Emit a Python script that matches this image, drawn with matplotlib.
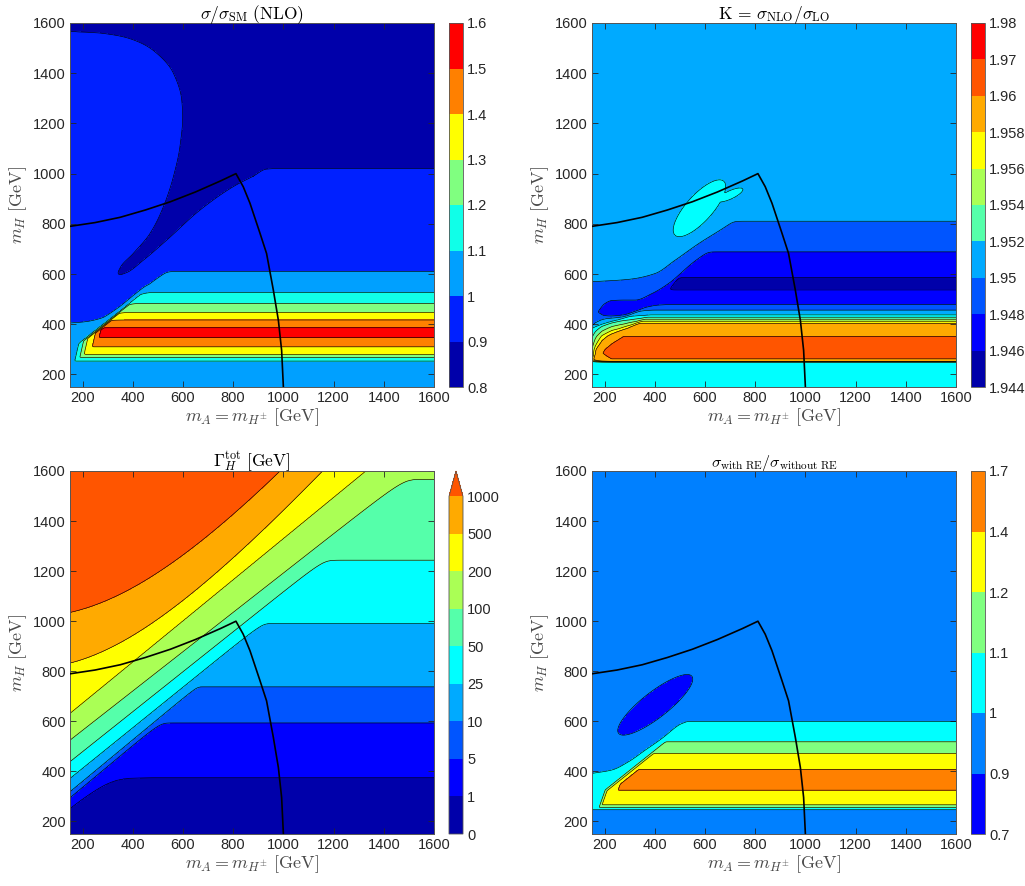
import numpy as np
import matplotlib
matplotlib.use("Agg")
import matplotlib.pyplot as plt
from matplotlib.colors import ListedColormap, BoundaryNorm
from matplotlib.cm import ScalarMappable

plt.rcParams["mathtext.fontset"] = "cm"
plt.rcParams["font.family"] = ["Liberation Sans", "DejaVu Sans"]

# ------------------------------------------------------------------ scan grid (GeV)
m_A = np.linspace(150, 1600, 581)
m_H = np.linspace(150, 1600, 581)
MA, MH = np.meshgrid(m_A, m_H)

# ------------------------------------------------------------------ constraint boundary
bound_mA = [150, 250, 350, 450, 550, 650, 750, 811, 840, 867, 907, 933, 960, 980, 993, 1000]
bound_mH = [790, 805, 826, 855, 888, 927, 971, 1000, 948, 882, 762, 682, 536, 416, 296, 150]

# ------------------------------------------------------------------ sigma/sigma_SM (NLO)
sig_levels = [0.8, 0.9, 1.0, 1.1, 1.2, 1.3, 1.4, 1.5, 1.6]
sig_rise_mH = [150, 248, 253, 268, 280, 310, 348, 367, 450]
sig_rise_val = [1.05, 1.05, 1.1, 1.2, 1.3, 1.4, 1.5, 1.57, 2.05]
sig_fall_mH = [150, 340, 367, 386, 417, 447, 483, 527, 560, 1600]
sig_fall_val = [2.05, 1.65, 1.57, 1.5, 1.4, 1.3, 1.2, 1.1, 1.05, 1.05]
sig_diag_u = [0, 150, 158, 163, 167, 170, 175, 200, 300]
sig_diag_val = [2.05, 1.65, 1.5, 1.4, 1.3, 1.2, 1.1, 1.05, 1.05]
sig_left_v = [0, 160, 168, 185, 199, 225, 244, 280]
sig_left_val = [1.05, 1.05, 1.1, 1.2, 1.3, 1.4, 1.5, 2.05]
sig_unit_mA = [150, 210, 270, 336, 402, 469, 528, 600, 1600]      # ratio = 1 edge
sig_unit_mH = [405, 410, 423, 456, 509, 562, 605, 660, 1460]
sig_lobeL_mH = [150, 590, 629, 682, 762, 868, 988, 1108, 1227, 1294, 1400, 1480, 1533, 1560, 1567, 1600]
sig_lobeL_mA = [336, 336, 352, 402, 469, 522, 562, 588, 599, 595, 562, 495, 402, 270, 150, 40]
sig_lobeR_mA = [150, 336, 376, 442, 535, 668, 800, 880, 933, 1000, 1600]
sig_lobeR_mH = [594, 594, 606, 655, 735, 855, 948, 990, 1018, 1021, 1021]

# ------------------------------------------------------------------ K = sigma_NLO/sigma_LO
k_levels = [1.944, 1.946, 1.948, 1.95, 1.952, 1.954, 1.956, 1.958, 1.96, 1.97, 1.98]
k_rise_mH = [150, 248, 249, 250, 251, 252, 261, 300, 400]
k_rise_val = [1.951, 1.951, 1.954, 1.956, 1.958, 1.96, 1.97, 1.975, 2.0]
k_fall_mH = [150, 300, 352, 404, 412, 420, 428, 437, 460, 1600]
k_fall_val = [2.0, 1.975, 1.97, 1.96, 1.958, 1.956, 1.954, 1.952, 1.951, 1.951]
k_fade_u = [0, 130, 150, 177, 224, 268, 330, 420]
k_fade = [1, 1, 0.7, 0.53, 0.38, 0.21, 0.05, 0]
k_edge_mA = [150, 163, 190, 230, 1600]
k_edge = [0.4, 0.6, 0.85, 1.0, 1.0]
# K <= 1.95 band
k_b1_lo_mA = [150, 250, 349, 400, 1600]
k_b1_lo_mH = [388, 415, 452, 455, 455]
k_b1_hi_mA = [150, 300, 402, 480, 575, 681, 760, 1600]
k_b1_hi_mH = [570, 580, 603, 655, 722, 789, 845, 1400]
k_b1_top = 811
# K <= 1.948 band
k_b3_lo_mA = [150, 177, 200, 229, 280, 322, 370, 420, 480, 1600]
k_b3_lo_mH = [460, 445, 433, 430, 436, 450, 468, 476, 478, 478]
k_b3_hi_mA = [150, 177, 200, 229, 280, 322, 389, 455, 548, 640, 1600]
k_b3_hi_mH = [420, 455, 482, 495, 497, 497, 523, 563, 643, 712, 1700]
k_b3_top = 689
# K <= 1.946 band
k_b5_lo, k_b5_hi = 536, 587
k_b5_left_mA, k_b5_left_slope = 455, 1.27

# ------------------------------------------------------------------ total width of H
gam_levels = [0, 1, 5, 10, 25, 50, 100, 200, 500, 1000]
gam_flat_mH = [375, 594, 738, 991, 1244, 1567]                 # levels 1 ... 100, large m_A
gam_left_mH = [256, 295, 319, 372, 439, 525, 632, 833, 1035]    # levels 1 ... 1000 at m_A = 150
gam_far_mA = [296, 508, 655, 914, 1158, 1477, 1328, 1156, 987]
gam_far_mH = [375, 594, 738, 991, 1244, 1567, 1600, 1600, 1600]
gam_curved = [False, False, False, False, False, False, False, True, True]

# ------------------------------------------------------------------ sigma with/without RE
re_levels = [0.7, 0.9, 1.0, 1.1, 1.2, 1.4, 1.7]
re_rise_mH = [150, 246, 248, 256.5, 266, 325, 370, 450]
re_rise_val = [0.95, 0.95, 1.0, 1.1, 1.2, 1.4, 1.57, 1.95]
re_fall_mH = [150, 330, 370, 408, 472, 518, 598, 640, 1600]
re_fall_val = [1.95, 1.7, 1.57, 1.4, 1.2, 1.1, 1.0, 0.95, 0.95]
re_diag_u = [0, 120, 139, 155, 164, 180, 220, 300]
re_diag_val = [1.95, 1.57, 1.4, 1.2, 1.1, 1.0, 0.95, 0.95]
re_left_v = [0, 165, 176, 184, 228, 300]
re_left_val = [0.95, 0.95, 1.1, 1.2, 1.4, 1.95]
re_unit_mA = [150, 230, 296, 362, 429, 495, 530, 700]
re_unit_mH = [392, 406, 439, 485, 532, 585, 606, 740]


# ------------------------------------------------------------------ helpers
def pchip(x, xp, fp):
    """Monotone piecewise-cubic interpolation, clamped outside the knots."""
    xp = np.asarray(xp, float)
    fp = np.asarray(fp, float)
    h = np.diff(xp)
    d = np.diff(fp) / h
    n = xp.size
    m = np.zeros(n)
    for i in range(1, n - 1):
        if d[i - 1] * d[i] > 0:
            w1 = 2 * h[i] + h[i - 1]
            w2 = h[i] + 2 * h[i - 1]
            m[i] = (w1 + w2) / (w1 / d[i - 1] + w2 / d[i])
    m[0], m[-1] = d[0], d[-1]
    x = np.clip(x, xp[0], xp[-1])
    k = np.clip(np.searchsorted(xp, x) - 1, 0, n - 2)
    t = (x - xp[k]) / h[k]
    return ((2 * t ** 3 - 3 * t ** 2 + 1) * fp[k] + (t ** 3 - 2 * t ** 2 + t) * h[k] * m[k]
            + (-2 * t ** 3 + 3 * t ** 2) * fp[k + 1] + (t ** 3 - t ** 2) * h[k] * m[k + 1])


def smin(arrs, r):
    s = np.stack(np.broadcast_arrays(*arrs)).astype(float)
    m = s.min(0)
    return m - r * np.log(np.exp(-(s - m) / r).sum(0))


def smax(arrs, r):
    return -smin([-a for a in arrs], r)


def sig(x):
    return 0.5 * (1 + np.tanh(0.5 * x))


def blob(cx, cy, ang, a, b):
    t = np.deg2rad(ang)
    x, y = MA - cx, MH - cy
    xr = x * np.cos(t) + y * np.sin(t)
    yr = -x * np.sin(t) + y * np.cos(t)
    rho2 = (xr / a) ** 2 + (yr / b) ** 2
    return np.exp(-np.log(2) * rho2 ** 2)


# ------------------------------------------------------------------ field: sigma/sigma_SM
u1 = MH - 0.8 * MA
v1 = MA - 0.23 * (MH - 250)
bump1 = smin([np.interp(MH, sig_rise_mH, sig_rise_val),
              np.interp(MH, sig_fall_mH, sig_fall_val),
              np.interp(u1, sig_diag_u, sig_diag_val),
              np.interp(v1, sig_left_v, sig_left_val)], 0.008) - 1.05
c1 = smin([np.full_like(MA, 610.0), pchip(MA, sig_unit_mA, sig_unit_mH)], 6)
low1 = 1.0 + 0.05 * np.tanh((c1 - MH) / 20) + np.clip(bump1, 0, None)
lobe = smin([MA - pchip(MH, sig_lobeL_mH, sig_lobeL_mA),
             MH - pchip(MA, sig_lobeR_mA, sig_lobeR_mH)], 8)
up1 = 0.9 - 0.04 * np.tanh(lobe / 40)
w1 = sig((MH - c1 - 40) / 10)
Z_sig = low1 + (up1 - 0.95) * w1

# ------------------------------------------------------------------ field: K factor
u2 = MH - 0.8 * MA
core2 = smin([np.interp(MH, k_rise_mH, k_rise_val),
              np.interp(MH, k_fall_mH, k_fall_val)], 0.0003) - 1.951
E2 = np.clip(core2, 0, None) * np.interp(u2, k_fade_u, k_fade) * np.interp(MA, k_edge_mA, k_edge)
strip2 = 0.002 * sig((249 - MH) / 0.8)
top1 = smin([np.full_like(MA, float(k_b1_top)), pchip(MA, k_b1_hi_mA, k_b1_hi_mH)], 6)
in1 = sig(smin([MH - pchip(MA, k_b1_lo_mA, k_b1_lo_mH), top1 - MH], 4) / 2.5)
top3 = smin([np.full_like(MA, float(k_b3_top)), pchip(MA, k_b3_hi_mA, k_b3_hi_mH)], 6)
in3 = sig(smin([MH - pchip(MA, k_b3_lo_mA, k_b3_lo_mH), top3 - MH], 4) / 2.5)
left5 = k_b5_left_mA + (MH - k_b5_lo) / k_b5_left_slope
in5 = sig(smin([MH - k_b5_lo, k_b5_hi - MH, (MA - left5) * 0.8], 5) / 2.5)
dip2 = 0.002 * (in1 + in3 + in5)
isle2 = np.maximum(blob(578, 862, 48, 138, 50), 0.9 * blob(700, 915, 25, 55, 16))
Z_k = 1.951 + smax([strip2, E2], 0.0002) - dip2 + 0.002 * isle2

# ------------------------------------------------------------------ field: Gamma_H
h3 = np.interp(MH, [150] + gam_flat_mH + [1900], [0.5, 1, 2, 3, 4, 5, 6, 7])
L = np.array(gam_left_mH, float)
x1 = np.array(gam_far_mA, float)
y1 = np.array(gam_far_mH, float)
D = np.empty((9, m_A.size))
for k in range(9):
    if gam_curved[k]:
        a = (y1[k] ** 2 - L[k] ** 2) / (x1[k] ** 2 - 150 ** 2)
        D[k] = np.sqrt(L[k] ** 2 + a * (m_A ** 2 - 150 ** 2))
    else:
        D[k] = L[k] + (y1[k] - L[k]) / (x1[k] - 150) * (m_A - 150)
D = np.maximum.accumulate(D + 1e-3 * np.arange(9)[:, None], axis=0)
g3 = np.empty_like(MA)
for j in range(m_A.size):
    g3[:, j] = np.interp(m_H, np.r_[D[0, j] - 150, D[:, j], D[-1, j] + 400], np.arange(11))
I3 = smax([h3, g3], 0.15)
Z_gam = np.where(I3 <= 9, np.interp(I3, np.arange(10), gam_levels), 1000 * (1 + (I3 - 9)))

# ------------------------------------------------------------------ field: RE ratio
u4 = MH - 0.8 * MA
v4 = MA - 0.35 * (MH - 250)
bump4 = smin([np.interp(MH, re_rise_mH, re_rise_val),
              np.interp(MH, re_fall_mH, re_fall_val),
              np.interp(u4, re_diag_u, re_diag_val),
              np.interp(v4, re_left_v, re_left_val)], 0.008) - 0.95
c4 = smin([np.full_like(MA, 598.0), pchip(MA, re_unit_mA, re_unit_mH)], 6)
edge4 = 0.1 * sig((c4 - MH) / 6) * sig((MH - 247) / 1.5)
Z_re = 0.95 + smax([np.clip(bump4, 0, None), edge4], 0.005) - 0.1 * blob(402, 666, 38, 190, 53)

# ------------------------------------------------------------------ colours
jet12 = ["#0000AA", "#0000FF", "#0055FF", "#00AAFF", "#00FFFF", "#55FFAA",
         "#AAFF55", "#FFFF00", "#FFAA00", "#FF5500", "#FF0000"]
sig_colors = ["#0000AA", "#0020FF", "#00A0FF", "#10FFE8", "#80FF80", "#FFFF00", "#FF8000", "#FF0000"]
k_colors = jet12[:10]
k_bar_colors = [jet12[i] for i in (0, 1, 2, 3, 5, 6, 7, 8, 9, 10)]
gam_colors = jet12[:9]
gam_over = jet12[9]
re_colors = ["#0000FF", "#0080FF", "#00FFFF", "#80FF80", "#FFFF00", "#FF8000"]

# ------------------------------------------------------------------ figure
fig = plt.figure(figsize=(10.25, 8.86), dpi=100)
W, H = 1025.0, 886.0


def box(x0, y0, x1, y1):
    return [x0 / W, 1 - y1 / H, (x1 - x0) / W, (y1 - y0) / H]


label_col = "#4a4a4a"


def style(ax, title, tsize=12.5):
    ax.set_xlim(150, 1600)
    ax.set_ylim(150, 1600)
    ax.set_xticks(range(200, 1601, 200))
    ax.set_yticks(range(200, 1601, 200))
    ax.tick_params(direction="in", top=True, right=True, length=4, width=0.6,
                   labelsize=10.5, colors="#262626", pad=3)
    for s in ax.spines.values():
        s.set_color("#555555")
        s.set_linewidth(0.7)
    ax.set_xlabel(r"$m_A = m_{H^{\pm}}\ [\mathrm{GeV}]$", fontsize=13, color=label_col, labelpad=1)
    ax.set_ylabel(r"$m_H\ [\mathrm{GeV}]$", fontsize=13, color=label_col, labelpad=3)
    ax.set_title(title, fontsize=tsize, pad=3)
    ax.plot(bound_mA, bound_mH, color="k", lw=1.2, zorder=5)


def cbar_style(cb, labels):
    cb.set_ticklabels(labels)
    cb.ax.tick_params(length=0, labelsize=10.5, pad=3, colors="#262626")
    cb.outline.set_edgecolor("#555555")
    cb.outline.set_linewidth(0.6)


def fmt(v):
    return "%g" % v


# panel 1
ax1 = fig.add_axes(box(70, 23, 434, 387))
cf1 = ax1.contourf(MA, MH, Z_sig, levels=sig_levels, colors=sig_colors)
ax1.contour(MA, MH, Z_sig, levels=sig_levels[1:-1], colors="k", linewidths=0.45)
style(ax1, r"$\sigma/\sigma_{\mathrm{SM}}\ \mathrm{(NLO)}$")
cax1 = fig.add_axes(box(449, 23, 463, 387))
cb1 = fig.colorbar(cf1, cax=cax1, ticks=sig_levels)
cbar_style(cb1, [fmt(v) for v in sig_levels])

# panel 2
ax2 = fig.add_axes(box(592, 23, 956, 387))
ax2.contourf(MA, MH, Z_k, levels=k_levels, colors=k_colors)
ax2.contour(MA, MH, Z_k, levels=k_levels[1:-1], colors="k", linewidths=0.45)
style(ax2, r"$\mathrm{K}\, =\, \sigma_{\mathrm{NLO}}/\sigma_{\mathrm{LO}}$")
cax2 = fig.add_axes(box(971, 23, 985, 387))
sm2 = ScalarMappable(norm=BoundaryNorm(k_levels, 10), cmap=ListedColormap(k_bar_colors))
cb2 = fig.colorbar(sm2, cax=cax2, ticks=k_levels, spacing="uniform")
cbar_style(cb2, [fmt(v) for v in k_levels])

# panel 3
ax3 = fig.add_axes(box(70, 471, 434, 834))
cf3 = ax3.contourf(MA, MH, Z_gam, levels=gam_levels, colors=gam_colors, extend="max")
cf3.cmap.set_over(gam_over)
ax3.contour(MA, MH, Z_gam, levels=gam_levels[1:], colors="k", linewidths=0.45)
style(ax3, r"$\Gamma_H^{\mathrm{tot}}\ [\mathrm{GeV}]$")
cax3 = fig.add_axes(box(449, 471, 463, 834))
cb3 = fig.colorbar(cf3, cax=cax3, ticks=gam_levels, extendfrac=0.075)
cbar_style(cb3, [fmt(v) for v in gam_levels])

# panel 4
ax4 = fig.add_axes(box(592, 471, 956, 834))
cf4 = ax4.contourf(MA, MH, Z_re, levels=re_levels, colors=re_colors)
ax4.contour(MA, MH, Z_re, levels=re_levels[1:-1], colors="k", linewidths=0.45)
style(ax4, r"$\sigma_{\mathrm{with\ RE}}/\sigma_{\mathrm{without\ RE}}$", tsize=11.5)
cax4 = fig.add_axes(box(971, 471, 985, 834))
cb4 = fig.colorbar(cf4, cax=cax4, ticks=re_levels)
cbar_style(cb4, [fmt(v) for v in re_levels])

fig.savefig("out.png", dpi=100)
